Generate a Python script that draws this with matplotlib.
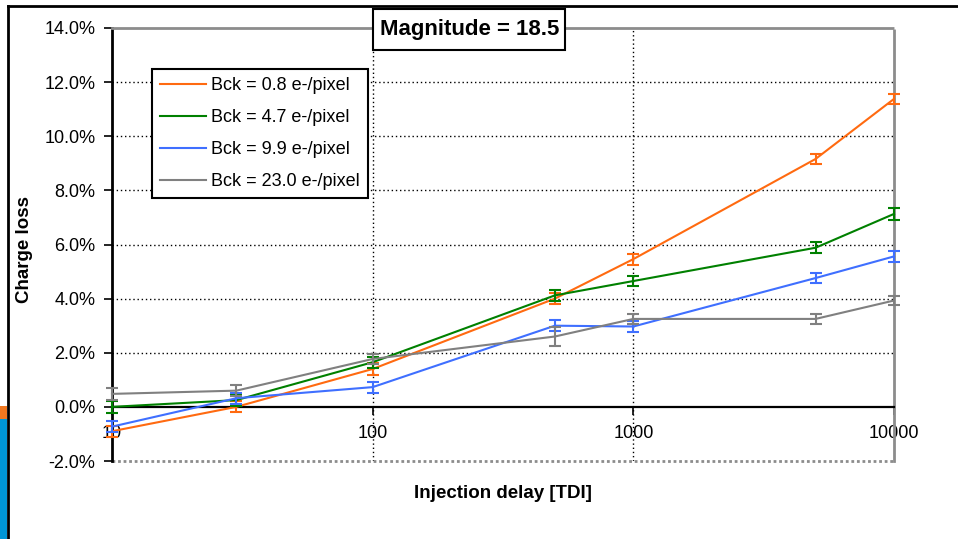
import matplotlib
matplotlib.use("Agg")
import matplotlib.pyplot as plt
from matplotlib.lines import Line2D
from matplotlib.patches import Rectangle
from matplotlib.ticker import FuncFormatter, NullLocator

plt.rcParams["font.family"] = ["Liberation Sans", "DejaVu Sans"]

# injection delay (TDI) and charge loss (%) per background level
delays = [10, 30, 100, 500, 1000, 5000, 10000]
loss_bck08 = [-0.90, 0.00, 1.40, 4.00, 5.46, 9.16, 11.38]
loss_bck47 = [0.00, 0.25, 1.65, 4.12, 4.65, 5.88, 7.13]
loss_bck99 = [-0.73, 0.32, 0.73, 3.00, 2.97, 4.76, 5.56]
loss_bck230 = [0.48, 0.60, 1.77, 2.60, 3.25, 3.25, 3.93]

err_bck08 = [0.20, 0.20, 0.23, 0.20, 0.20, 0.18, 0.18]
err_bck47 = [0.21, 0.20, 0.20, 0.20, 0.20, 0.20, 0.22]
err_bck99 = [0.20, 0.20, 0.20, 0.20, 0.20, 0.20, 0.20]
err_bck230 = [0.21, 0.20, 0.20, 0.35, 0.18, 0.20, 0.18]

labels = ["Bck = 0.8 e-/pixel", "Bck = 4.7 e-/pixel",
          "Bck = 9.9 e-/pixel", "Bck = 23.0 e-/pixel"]
colors = ["#FF6A10", "#008000", "#3F6FFF", "#808080"]

W, H = 958, 539
fig = plt.figure(figsize=(W / 100, H / 100), dpi=100)
ax = fig.add_axes([112 / W, 1 - 461 / H, (894 - 112) / W, (461 - 28) / H])

series = [(loss_bck08, err_bck08), (loss_bck47, err_bck47),
          (loss_bck99, err_bck99), (loss_bck230, err_bck230)]
for (vals, errs), col, lab in zip(series, colors, labels):
    ax.plot(delays, vals, color=col, lw=1.5, label=lab, zorder=4, clip_on=False)
    ax.errorbar(delays, vals, yerr=errs, fmt="none", ecolor=col, elinewidth=1.5,
                capsize=4.3, capthick=1.5, zorder=4, clip_on=False)

ax.set_xscale("log")
ax.set_xlim(10, 10000)
ax.set_ylim(-2, 14)
ax.set_yticks([-2, 0, 2, 4, 6, 8, 10, 12, 14])
ax.yaxis.set_major_formatter(FuncFormatter(lambda v, p: f"{v:.1f}%"))
ax.set_xticks([10, 100, 1000, 10000])
ax.set_xticklabels(["10", "100", "1000", "10000"])
ax.xaxis.set_minor_locator(NullLocator())

# dotted grid, excluding the plot-area edges
for yv in [2, 4, 6, 8, 10, 12]:
    ax.axhline(yv, color="black", lw=1.0, ls=(0, (1, 2)), zorder=1)
for xv in [100, 1000]:
    ax.axvline(xv, color="black", lw=1.0, ls=(0, (1, 2)), zorder=1)

# plot-area frame: grey dotted top/right/bottom, solid left axis
for s in ["top", "right"]:
    ax.spines[s].set_color("#8c8c8c")
    ax.spines[s].set_linewidth(2.0)
    ax.spines[s].set_linestyle((0, (1, 1)))
ax.axhline(-2, color="#8c8c8c", lw=2.0, ls=(0, (1, 1)), zorder=1, clip_on=False)
ax.spines["left"].set_linewidth(2.0)
ax.spines["bottom"].set_position(("data", 0))
ax.spines["bottom"].set_linewidth(1.6)

ax.tick_params(axis="y", direction="out", length=6, width=1.2, pad=6, labelsize=13)
ax.tick_params(axis="x", direction="out", length=6, width=1.2, pad=7, labelsize=13)

handles = [Line2D([], [], color=c, lw=1.5) for c in colors]
leg = ax.legend(handles, labels, loc="upper left",
                bbox_to_anchor=(152 / W, 1 - 69 / H), bbox_transform=fig.transFigure,
                borderaxespad=0, borderpad=0.45, labelspacing=0.83,
                handlelength=2.55, handletextpad=0.25, fontsize=13,
                fancybox=False, framealpha=1, edgecolor="black")
leg.get_frame().set_linewidth(1.5)
leg.set_zorder(6)

fig.text(24.5 / W, 1 - 249.5 / H, "Charge loss", rotation=90, ha="center",
         va="center", fontsize=13.5, fontweight="bold")
fig.text(503 / W, 1 - 494 / H, "Injection delay [TDI]", ha="center", va="center",
         fontsize=13.5, fontweight="bold")

# title box
fig.add_artist(Rectangle((373 / W, 1 - 50 / H), 192 / W, 41 / H, fc="white",
                         ec="black", lw=1.5, transform=fig.transFigure, zorder=5))
fig.text(470 / W, 1 - 29 / H, "Magnitude = 18.5", ha="center", va="center",
         fontsize=16, fontweight="bold", zorder=6)

# outer frame and side strip
fig.add_artist(Line2D([8 / W, 8 / W], [0, 1 - 6 / H], color="black", lw=2,
                      transform=fig.transFigure))
fig.add_artist(Line2D([8 / W, 1], [1 - 6 / H, 1 - 6 / H], color="black", lw=2,
                      transform=fig.transFigure))
fig.add_artist(Rectangle((0, 1 - 419 / H), 7 / W, 13 / H, color="#F07820",
                         transform=fig.transFigure, lw=0))
fig.add_artist(Rectangle((0, 0), 7 / W, 1 - 419 / H, color="#0096D6",
                         transform=fig.transFigure, lw=0))

fig.savefig("out.png", dpi=100)
